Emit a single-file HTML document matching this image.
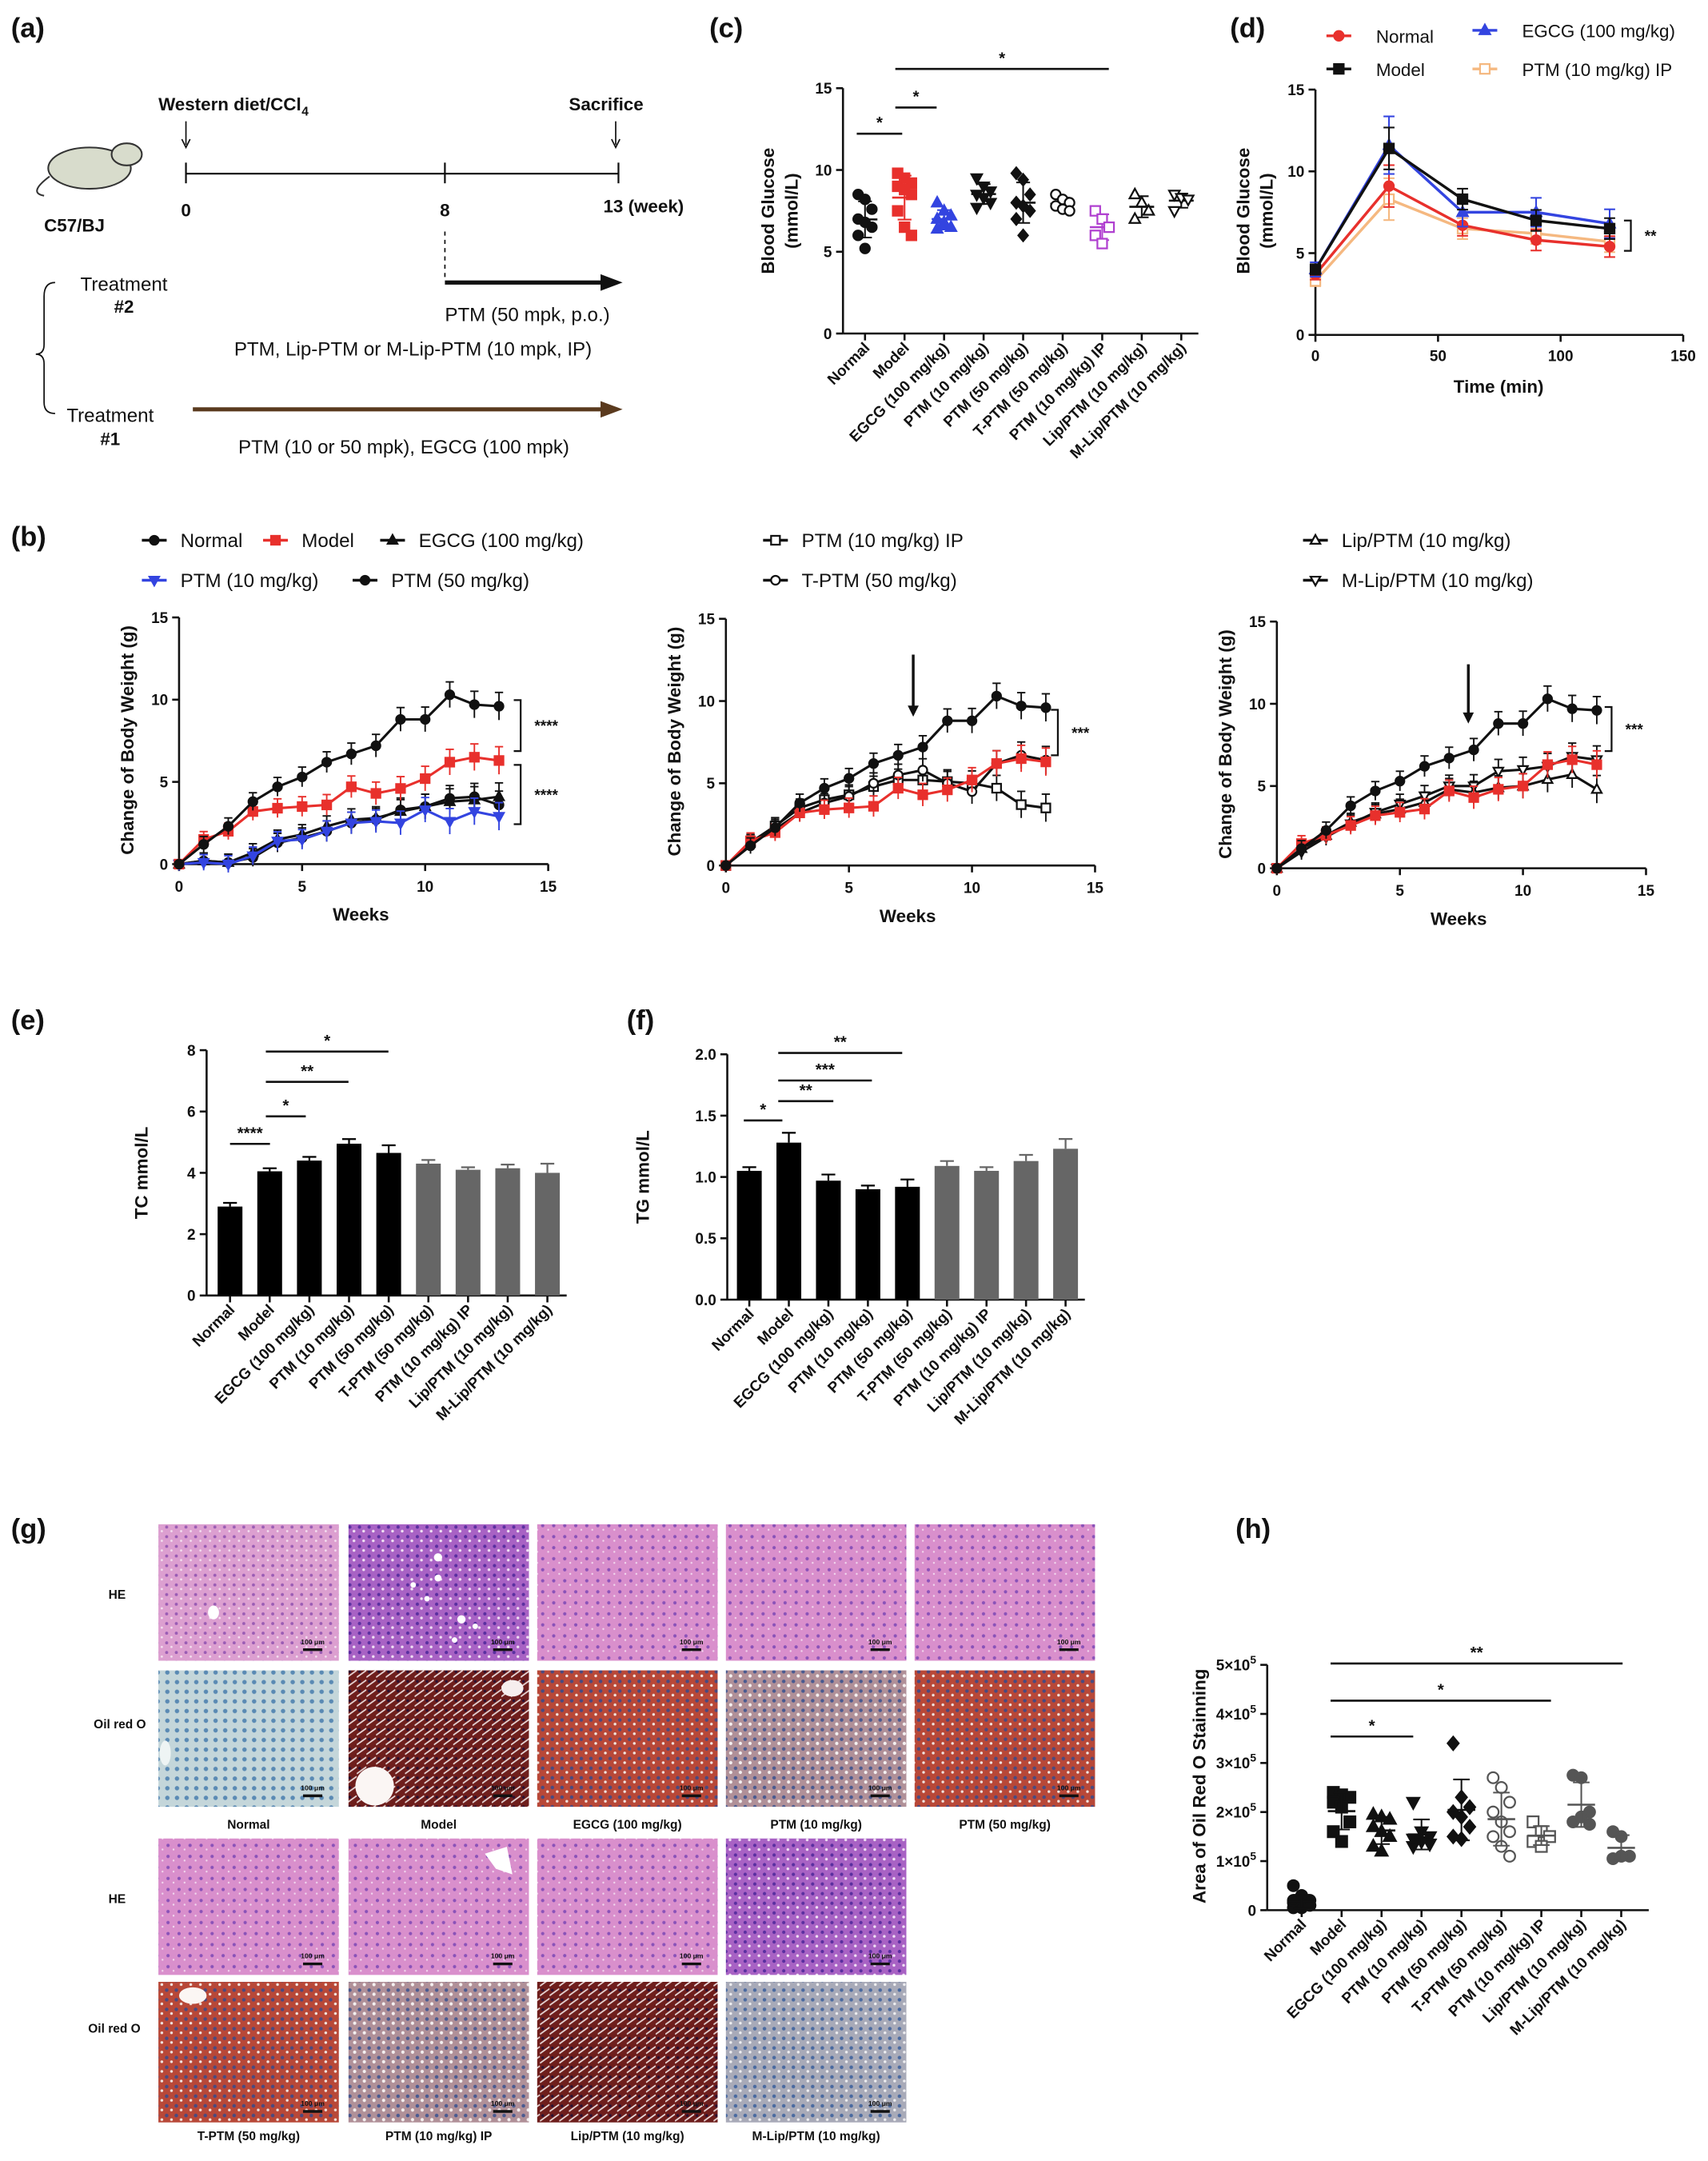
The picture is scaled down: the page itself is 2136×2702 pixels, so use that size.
<!DOCTYPE html>
<html><head><meta charset="utf-8"><style>
html,body{margin:0;padding:0;background:#fff;}
svg{display:block;font-family:"Liberation Sans",Arial,sans-serif;}
</style></head><body>
<svg id="fig" xmlns="http://www.w3.org/2000/svg" width="2136" height="2702" viewBox="0 0 1240 1568" preserveAspectRatio="none">
<defs>
<pattern id="pHEn" width="7" height="7" patternUnits="userSpaceOnUse"><rect width="7" height="7" fill="#dc9fd0"/><circle cx="2" cy="2" r="1.1" fill="#9a5cb4"/><circle cx="5.5" cy="5" r="0.8" fill="#f4e0f0"/></pattern>
<pattern id="pHEm" width="7" height="7" patternUnits="userSpaceOnUse"><rect width="7" height="7" fill="#a862c4"/><circle cx="2" cy="2" r="1.2" fill="#5a2fa0"/><circle cx="5" cy="5" r="1" fill="#f0e0f4"/></pattern>
<pattern id="pHE2" width="8" height="8" patternUnits="userSpaceOnUse"><rect width="8" height="8" fill="#d98fcc"/><circle cx="2" cy="3" r="1.2" fill="#8a52b8"/><circle cx="6" cy="6" r="0.7" fill="#f2d8ee"/></pattern>
<pattern id="pOn" width="7" height="7" patternUnits="userSpaceOnUse"><rect width="7" height="7" fill="#c4d6da"/><circle cx="2.5" cy="2.5" r="1.6" fill="#5a8ab4"/></pattern>
<pattern id="pOm" width="7" height="7" patternUnits="userSpaceOnUse"><rect width="7" height="7" fill="#6e1e1c"/><path d="M0 6 L7 1" stroke="#e8d8d8" stroke-width="1"/><circle cx="2" cy="2" r="1" fill="#2a1030"/></pattern>
<pattern id="pOr" width="7" height="7" patternUnits="userSpaceOnUse"><rect width="7" height="7" fill="#b84838"/><circle cx="2" cy="2" r="1.3" fill="#4a4a80"/><circle cx="5.5" cy="5" r="1" fill="#f0e4e0"/></pattern>
<pattern id="pOg" width="7" height="7" patternUnits="userSpaceOnUse"><rect width="7" height="7" fill="#b09098"/><circle cx="2" cy="2" r="1.3" fill="#4a5a90"/><circle cx="5.5" cy="5" r="1.2" fill="#f4f0f0"/></pattern>
<pattern id="pOb" width="7" height="7" patternUnits="userSpaceOnUse"><rect width="7" height="7" fill="#a8aab8"/><circle cx="2" cy="2" r="1.3" fill="#4a6aa0"/><circle cx="5.5" cy="5" r="1" fill="#eeeef0"/></pattern>
</defs>
</svg>
<script>
// ---------- data ----------
const cats = ["Normal","Model","EGCG (100 mg/kg)","PTM (10 mg/kg)","PTM (50 mg/kg)","T-PTM (50 mg/kg)","PTM (10 mg/kg)  IP","Lip/PTM (10 mg/kg)","M-Lip/PTM (10 mg/kg)"];
const glucPts = [[8.5,8.2,7.6,7.0,6.8,6.5,6.0,5.2],[9.8,9.5,9.2,9.0,8.8,8.5,7.5,6.5,6.0],[8.0,7.5,7.2,7.0,6.8,6.5,6.4,6.6],[9.5,9.0,8.7,8.5,8.3,8.0,7.7],[9.8,9.4,8.5,8.0,7.8,7.5,7.0,6.0],[8.5,8.2,8.0,7.8,7.6,7.5],[7.5,7.0,6.5,6.0,5.5],[8.5,8.0,7.5,7.0],[8.5,8.3,8.2,7.5]];
const ogttTimes = [0,30,60,90,120];
const ogttNormal = [3.7,9.1,6.7,5.8,5.4];
const ogttModel = [4.0,11.4,8.3,7.0,6.5];
const ogttEGCG = [4.0,11.6,7.5,7.5,6.8];
const ogttIP = [3.3,8.3,6.5,6.2,5.7];
const ogttErr = [0.4,1.6,0.8,0.8,0.8];
const weeks = [0,1,2,3,4,5,6,7,8,9,10,11,12,13];
const bwPTM50 = [0,1.2,2.3,3.8,4.7,5.3,6.2,6.7,7.2,8.8,8.8,10.3,9.7,9.6];
const bwModel = [0,1.5,2.0,3.2,3.4,3.5,3.6,4.7,4.3,4.6,5.2,6.2,6.5,6.3];
const bwEGCG = [0,0.2,0.1,0.7,1.5,1.8,2.3,2.7,2.8,3.2,3.5,3.8,3.9,4.1];
const bwPTM10 = [0,0.1,0,0.5,1.4,1.5,2.0,2.5,2.6,2.5,3.3,2.6,3.2,2.9];
const bwNormal = [0,0.2,0.1,0.4,1.3,1.6,2.0,2.5,2.7,3.3,3.5,4.0,4.1,3.6];
const bwIP = [0,1.4,2.4,3.5,4.0,4.3,4.8,5.2,5.2,5.1,5.0,4.7,3.7,3.5];
const bwTPTM = [0,1.4,2.2,3.2,3.8,4.2,5.0,5.5,5.8,5.0,4.5,6.2,6.7,6.4];
const bwLip = [0,1.2,2.0,2.8,3.3,3.6,4.0,4.8,4.6,4.9,5.0,5.4,5.7,4.8];
const bwMLip = [0,1.0,1.9,2.7,3.4,3.9,4.4,5.0,5.0,5.9,6.0,6.2,6.8,6.6];
const bwModel2 = [0,1.5,2.0,2.6,3.2,3.4,3.6,4.7,4.3,4.8,5.0,6.3,6.6,6.3];
const tcVals = [2.9,4.05,4.4,4.95,4.65,4.3,4.1,4.15,4.0];
const tcErr = [0.12,0.1,0.12,0.15,0.25,0.12,0.08,0.12,0.3];
const tgVals = [1.05,1.28,0.97,0.90,0.92,1.09,1.05,1.13,1.23];
const tgErr = [0.03,0.08,0.05,0.03,0.06,0.04,0.03,0.05,0.08];
const oilPts = [[0.5,0.3,0.2,0.15,0.1,0.1,0.05,0.05,0.1,0.2],[2.4,2.35,2.3,2.2,2.1,1.8,1.6,1.4],[1.95,1.9,1.85,1.7,1.6,1.5,1.3,1.2],[2.2,1.6,1.5,1.45,1.4,1.35,1.3],[3.4,2.3,2.1,2.0,1.9,1.7,1.5,1.45],[2.7,2.5,2.2,2.0,1.8,1.6,1.5,1.3,1.1],[1.8,1.6,1.5,1.4,1.3],[2.75,2.7,2.0,1.8,1.9,1.75],[1.6,1.5,1.1,1.05,1.1]];
const yTicksC = [0,5,10,15];
const yTicksTC = [0,2,4,6,8];
const yTicksTG = ["0.0","0.5","1.0","1.5","2.0"];
const xTicksW = [0,5,10,15];
const xTicksT = [0,50,100,150];

// ---------- helpers ----------
const NS="http://www.w3.org/2000/svg";
const svg=document.getElementById('fig');
function mk(tag,attrs,name,parent){
  const el=document.createElementNS(NS,tag);
  for(const k in attrs) el.setAttribute(k,attrs[k]);
  
  
  (parent||svg).appendChild(el);return el;
}
function txt(x,y,s,name,opt){
  opt=opt||{};
  const t=mk('text',{x:x,y:y,'font-size':opt.fs||12,'font-weight':opt.fw||'bold','text-anchor':opt.a||'start',fill:opt.fill||'#111'},name);
  if(opt.rot!==undefined) t.setAttribute('transform','rotate('+opt.rot+' '+x+' '+y+')');
  t.textContent=s;return t;
}
function line(x1,y1,x2,y2,name,opt){opt=opt||{};return mk('line',{x1:x1,y1:y1,x2:x2,y2:y2,stroke:opt.c||'#111','stroke-width':opt.w||1.5,'stroke-dasharray':opt.d||'none'},name);}
function marker(x,y,shape,color,open,name,r){
  r=r||3.5;const f=open?'#fff':color;const a={fill:f,stroke:color,'stroke-width':1.3};
  if(shape==='c'){a.cx=x;a.cy=y;a.r=r;return mk('circle',a,name);}
  if(shape==='s'){a.x=x-r;a.y=y-r;a.width=2*r;a.height=2*r;return mk('rect',a,name);}
  let p;
  if(shape==='u')p=[[x,y-r*1.2],[x+r*1.1,y+r*0.8],[x-r*1.1,y+r*0.8]];
  else if(shape==='d')p=[[x,y+r*1.2],[x+r*1.1,y-r*0.8],[x-r*1.1,y-r*0.8]];
  else p=[[x,y-r*1.2],[x+r,y],[x,y+r*1.2],[x-r,y]];
  a.points=p.map(q=>q.join(',')).join(' ');return mk('polygon',a,name);
}
function mean(a){return a.reduce((s,v)=>s+v,0)/a.length;}
function sd(a){const m=mean(a);return Math.sqrt(a.reduce((s,v)=>s+(v-m)*(v-m),0)/(a.length-1));}
function sig(x1,x2,y,s,name){line(x1,y,x2,y,name+'-line',{w:1.5});txt((x1+x2)/2,y-4,s,name+'-stars',{fs:12,a:'middle'});}
function bracket(x,y1,y2,s,name){mk('path',{d:'M'+(x-5)+' '+y1+' H'+x+' V'+y2+' H'+(x-5),fill:'none',stroke:'#111','stroke-width':1.3},name);txt(x+10,(y1+y2)/2+4,s,name+'-stars',{fs:11});}
function yaxis(x,yb,yt,vals,labels,vmax,name,fs){
  line(x,yb,x,yt,name);
  vals.forEach((v,i)=>{const y=yb-(yb-yt)*v/vmax;line(x-5,y,x,y,name+'-tick');txt(x-8,y+4,labels[i],name+'-label',{fs:fs||11,a:'end'});});
}
function catLabels(xs,y){cats.forEach((c,i)=>txt(xs[i]+4,y,c,'x-label-'+i,{fs:11,a:'end',rot:-45}));}

// ---------- panel labels ----------
[['(a)',8,27],['(c)',515,27],['(d)',893,27],['(b)',8,396],['(e)',8,747],['(f)',455,747],['(g)',8,1116],['(h)',897,1116]].forEach(p=>txt(p[1],p[2],p[0],'panel-label',{fs:20}));

// ---------- (a) timeline ----------
mk('ellipse',{cx:65,cy:122,rx:30,ry:15,fill:'#d8dccc',stroke:'#333','stroke-width':1.2},'mouse-body');
mk('ellipse',{cx:92,cy:112,rx:11,ry:8,fill:'#d8dccc',stroke:'#333','stroke-width':1.2},'mouse-head');
mk('path',{d:'M36 128 Q20 140 32 142',fill:'none',stroke:'#333','stroke-width':1.2},'mouse-tail');
txt(32,168,'C57/BJ','strain-label',{fs:13});
txt(115,80,'Western diet/CCl','diet-label',{fs:13});
txt(219,84,'4','diet-sub',{fs:9});
txt(413,80,'Sacrifice','sacrifice-label',{fs:13});
line(135,88,135,105,'diet-arrow',{w:1});mk('path',{d:'M132 101 L135 107 L138 101',fill:'none',stroke:'#111'},'diet-arrowhead');
line(447,88,447,105,'sac-arrow',{w:1});mk('path',{d:'M444 101 L447 107 L450 101',fill:'none',stroke:'#111'},'sac-arrowhead');
line(135,126,449,126,'timeline',{w:1.3});
[135,323,449].forEach(x=>line(x,118,x,133,'timeline-tick',{w:1.3}));
txt(135,157,'0','week-0',{fs:13,a:'middle'});txt(323,157,'8','week-8',{fs:13,a:'middle'});txt(438,154,'13 (week)','week-13',{fs:13});
line(323,168,323,204,'dash-line',{w:1,d:'3,3'});
line(323,205,440,205,'treat2-arrow',{w:3});mk('polygon',{points:'436,199 452,205 436,211',fill:'#111'},'treat2-arrowhead');
txt(323,233,'PTM (50 mpk, p.o.)','treat2-po',{fs:14,fw:'normal'});
txt(170,258,'PTM, Lip-PTM or M-Lip-PTM  (10 mpk, IP)','treat2-ip',{fs:14,fw:'normal'});
txt(90,211,'Treatment','treat2-label',{fs:14,fw:'normal',a:'middle'});txt(90,227,'#2','treat2-num',{fs:13,a:'middle'});
mk('path',{d:'M40 205 Q32 205 32 215 V250 Q32 257 26 257 Q32 257 32 264 V292 Q32 300 40 300',fill:'none',stroke:'#111','stroke-width':1},'brace');
txt(80,306,'Treatment','treat1-label',{fs:14,fw:'normal',a:'middle'});txt(80,323,'#1','treat1-num',{fs:13,a:'middle'});
line(140,297,440,297,'treat1-arrow',{w:3,c:'#5a3a1e'});mk('polygon',{points:'436,291 452,297 436,303',fill:'#5a3a1e'},'treat1-arrowhead');
txt(173,329,'PTM (10 or 50 mpk),    EGCG (100 mpk)','treat1-text',{fs:14,fw:'normal'});

// ---------- (c) blood glucose scatter ----------
(function(){
  const x0=612,x1=870,yb=242,yt=64,vmax=15;
  const sy=v=>yb-(yb-yt)*v/vmax;
  const xs=cats.map((c,i)=>628+i*28.7);
  yaxis(x0,yb,yt,yTicksC,yTicksC.map(String),vmax,'c-y-axis');
  line(x0,yb,x1,yb,'c-x-axis');
  xs.forEach(x=>line(x,yb,x,yb+5,'c-x-tick'));
  catLabels(xs,253);
  txt(562,153,'Blood Glucose','c-y-title',{fs:13,a:'middle',rot:-90});
  txt(579,153,'(mmol/L)','c-y-title-unit',{fs:13,a:'middle',rot:-90});
  const shp=['c','s','u','d','q','c','s','u','d'],open=[0,0,0,0,0,1,1,1,1],col=['#111','#e8302c','#3344e0','#111','#111','#111','#b040d0','#111','#111'];
  glucPts.forEach((g,i)=>{
    const m=mean(g),s=sd(g),cx=xs[i];
    line(cx-9,sy(m),cx+9,sy(m),'c-mean-'+i,{c:col[i]});
    line(cx,sy(m-s),cx,sy(m+s),'c-sd-'+i,{c:col[i],w:1.2});
    line(cx-5,sy(m-s),cx+5,sy(m-s),'c-sd-cap',{c:col[i],w:1.2});line(cx-5,sy(m+s),cx+5,sy(m+s),'c-sd-cap',{c:col[i],w:1.2});
    g.forEach((v,j)=>marker(cx+((j%3)-1)*5,sy(v),shp[i],col[i],open[i],'c-point-'+i));
  });
  sig(622,655,97,'*','c-sig-1');sig(650,680,78,'*','c-sig-2');sig(650,805,50,'*','c-sig-3');
})();

// ---------- (d) OGTT ----------
(function(){
  const x0=955,x1=1222,yb=243,yt=65;
  const sx=v=>x0+(x1-x0)*v/150,sy=v=>yb-(yb-yt)*v/15;
  yaxis(x0,yb,yt,yTicksC,yTicksC.map(String),15,'d-y-axis');
  line(x0,yb,x1,yb,'d-x-axis');
  xTicksT.forEach(t=>{line(sx(t),yb,sx(t),yb+5,'d-x-tick');txt(sx(t),yb+19,String(t),'d-x-label',{fs:11,a:'middle'});});
  txt(1088,285,'Time (min)','d-x-title',{fs:13,a:'middle'});
  txt(907,153,'Blood Glucose','d-y-title',{fs:13,a:'middle',rot:-90});
  txt(924,153,'(mmol/L)','d-y-title-unit',{fs:13,a:'middle',rot:-90});
  const series=[[ogttIP,'#f5b880','s',1,'ptm-ip'],[ogttNormal,'#e8302c','c',0,'normal'],[ogttEGCG,'#3344e0','u',0,'egcg'],[ogttModel,'#111','s',0,'model']];
  series.forEach(s=>{
    mk('polyline',{points:ogttTimes.map((t,i)=>sx(t)+','+sy(s[0][i])).join(' '),fill:'none',stroke:s[1],'stroke-width':2},'d-line-'+s[4]);
    ogttTimes.forEach((t,i)=>{const e=ogttErr[i]*(s[4]==='egcg'?1.1:0.8);line(sx(t),sy(s[0][i]-e),sx(t),sy(s[0][i]+e),'d-err',{c:s[1],w:1.2});line(sx(t)-4,sy(s[0][i]+e),sx(t)+4,sy(s[0][i]+e),'d-err-cap',{c:s[1],w:1.2});line(sx(t)-4,sy(s[0][i]-e),sx(t)+4,sy(s[0][i]-e),'d-err-cap',{c:s[1],w:1.2});marker(sx(t),sy(s[0][i]),s[2],s[1],s[3],'d-point-'+s[4]);});
  });
  bracket(1184,160,182,'**','d-sig');
  [[972,26,'#e8302c','c',0,'Normal'],[972,50,'#111','s',0,'Model'],[1078,22,'#3344e0','u',0,'EGCG (100 mg/kg)'],[1078,50,'#f5b880','s',1,'PTM (10 mg/kg) IP']].forEach(l=>{
    line(l[0]-9,l[1],l[0]+9,l[1],'d-legend-line',{c:l[2],w:2});marker(l[0],l[1],l[3],l[2],l[4],'d-legend-marker');
    txt(l[0]+27,l[1]+5,l[5],'d-legend-'+l[5],{fs:13,fw:'normal'});
  });
})();

// ---------- (b) body weight ----------
function bwPlot(x0,yb,series,idx){
  const x1=x0+268,yt=yb-179;
  const sx=v=>x0+(x1-x0)*v/15,sy=v=>yb-(yb-yt)*v/15;
  yaxis(x0,yb,yt,yTicksC,yTicksC.map(String),15,'b'+idx+'-y-axis');
  line(x0,yb,x1,yb,'b'+idx+'-x-axis');
  xTicksW.forEach(t=>{line(sx(t),yb,sx(t),yb+5,'b'+idx+'-x-tick');txt(sx(t),yb+20,String(t),'b'+idx+'-x-label',{fs:11,a:'middle'});});
  txt((x0+x1)/2-2,yb+41,'Weeks','b'+idx+'-x-title',{fs:13,a:'middle'});
  txt(x0-33,yb-90,'Change of Body Weight (g)','b'+idx+'-y-title',{fs:13,a:'middle',rot:-90});
  series.forEach(s=>{
    mk('polyline',{points:weeks.map((w,i)=>sx(w)+','+sy(s.d[i])).join(' '),fill:'none',stroke:s.c,'stroke-width':1.8},'b'+idx+'-line-'+s.n);
    weeks.forEach((w,i)=>{if(i>0){const e=0.45+0.03*i;line(sx(w),sy(s.d[i]-e),sx(w),sy(s.d[i]+e),'b-err',{c:s.c,w:1.1});line(sx(w)-3,sy(s.d[i]+e),sx(w)+3,sy(s.d[i]+e),'b-err-cap',{c:s.c,w:1.1});}
      marker(sx(w),sy(s.d[i]),s.m,s.c,s.o,'b'+idx+'-point-'+s.n,3.2);});
  });
  return {sx:sx,sy:sy};
}
const P50={d:bwPTM50,c:'#111',m:'c',o:0,n:'ptm50'};
bwPlot(130,627,[{d:bwNormal,c:'#111',m:'c',o:0,n:'normal'},{d:bwEGCG,c:'#111',m:'u',o:0,n:'egcg'},{d:bwPTM10,c:'#3344e0',m:'d',o:0,n:'ptm10'},{d:bwModel,c:'#e8302c',m:'s',o:0,n:'model'},P50],1);
bracket(378,508,545,'****','b1-sig-1');bracket(378,555,598,'****','b1-sig-2');
bwPlot(527,628,[{d:bwIP,c:'#111',m:'s',o:1,n:'ptm-ip'},{d:bwTPTM,c:'#111',m:'c',o:1,n:'tptm'},{d:bwModel,c:'#e8302c',m:'s',o:0,n:'model'},P50],2);
bracket(768,515,548,'***','b2-sig');
bwPlot(927,630,[{d:bwLip,c:'#111',m:'u',o:1,n:'lip'},{d:bwMLip,c:'#111',m:'d',o:1,n:'mlip'},{d:bwModel2,c:'#e8302c',m:'s',o:0,n:'model'},P50],3);
bracket(1170,513,545,'***','b3-sig');
[[663,475,520],[1066,482,525]].forEach(a=>{line(a[0],a[1],a[0],a[2]-6,'b-treat-arrow',{w:2});mk('polygon',{points:(a[0]-4)+','+(a[2]-8)+' '+(a[0]+4)+','+(a[2]-8)+' '+a[0]+','+a[2],fill:'#111'},'b-treat-arrowhead');});
[[112,392,'#111','c',0,'Normal'],[200,392,'#e8302c','s',0,'Model'],[285,392,'#111','u',0,'EGCG (100 mg/kg)'],[112,421,'#3344e0','d',0,'PTM (10 mg/kg)'],[265,421,'#111','c',0,'PTM (50 mg/kg)'],
 [563,392,'#111','s',1,'PTM (10 mg/kg) IP'],[563,421,'#111','c',1,'T-PTM (50 mg/kg)'],[955,392,'#111','u',1,'Lip/PTM (10 mg/kg)'],[955,421,'#111','d',1,'M-Lip/PTM (10 mg/kg)']].forEach(l=>{
  line(l[0]-9,l[1],l[0]+9,l[1],'b-legend-line',{c:l[2],w:2});marker(l[0],l[1],l[3],l[2],l[4],'b-legend-marker',3.2);
  txt(l[0]+19,l[1]+5,l[5],'b-legend-'+l[5],{fs:14,fw:'normal'});
});

// ---------- (e) TC, (f) TG ----------
function barPlot(x0,yb,yt,vmax,vals,err,tickVals,tickLabels,title,tx,name,step,first){
  const sy=v=>yb-(yb-yt)*v/vmax;
  const xs=vals.map((v,i)=>first+i*step);
  yaxis(x0,yb,yt,tickVals,tickLabels,vmax,name+'-y-axis');
  line(x0,yb,xs[8]+14,yb,name+'-x-axis');
  xs.forEach(x=>line(x,yb,x,yb+5,name+'-x-tick'));
  vals.forEach((v,i)=>{
    const c=i<5?'#000':'#666';
    line(xs[i],sy(v),xs[i],sy(v+err[i]),name+'-err',{c:c,w:1.3});line(xs[i]-5,sy(v+err[i]),xs[i]+5,sy(v+err[i]),name+'-err-cap',{c:c,w:1.3});
    mk('rect',{x:xs[i]-9,y:sy(v),width:18,height:yb-sy(v),fill:c},name+'-bar-'+i);
  });
  catLabels(xs,yb+11);
  txt(tx,(yb+yt)/2,title,name+'-y-title',{fs:13,a:'middle',rot:-90});
}
barPlot(150,940,762,8,tcVals,tcErr,yTicksTC,yTicksTC.map(String),'TC mmol/L',107,'e',28.8,167);
sig(167,196,830,'****','e-sig-1');sig(193,222,810,'*','e-sig-2');sig(193,253,785,'**','e-sig-3');sig(193,282,763,'*','e-sig-4');
barPlot(528,943,765,2,tgVals,tgErr,[0,0.5,1,1.5,2],yTicksTG,'TG mmol/L',471,'f',28.7,544);
sig(540,568,813,'*','f-sig-1');sig(565,605,799,'**','f-sig-2');sig(565,633,784,'***','f-sig-3');sig(565,655,764,'**','f-sig-4');

// ---------- (g) histology ----------
(function(){
  const cols1=[115,253,390,527,664],w=131;
  const he1=['pHEn','pHEm','pHE2','pHE2','pHE2'],oil1=['pOn','pOm','pOr','pOg','pOr'];
  const he2=['pHE2','pHE2','pHE2','pHEm'],oil2=['pOr','pOg','pOm','pOb'];
  const cap1=['Normal','Model','EGCG (100 mg/kg)','PTM (10 mg/kg)','PTM (50 mg/kg)'];
  const cap2=['T-PTM (50 mg/kg)','PTM (10 mg/kg) IP','Lip/PTM (10 mg/kg)','M-Lip/PTM (10 mg/kg)'];
  function tile(x,y,h,p,nm){mk('rect',{x:x,y:y,width:w,height:h,fill:'url(#'+p+')'},nm);}
  function scale(x,y,h){line(x+w-26,y+h-8,x+w-12,y+h-8,'scale-bar',{w:2});txt(x+w-19,y+h-12,'100 μm','scale-label',{fs:5,a:'middle'});}
  cols1.forEach((x,i)=>{tile(x,1106,99,he1[i],'he-image-'+i);tile(x,1212,99,oil1[i],'oil-image-'+i);txt(x+w/2,1327,cap1[i],'histo-caption',{fs:9,a:'middle'});});
  cols1.slice(0,4).forEach((x,i)=>{tile(x,1334,99,he2[i],'he-image-r2-'+i);tile(x,1438,102,oil2[i],'oil-image-r2-'+i);txt(x+w/2,1553,cap2[i],'histo-caption',{fs:9,a:'middle'});});
  // features
  mk('ellipse',{cx:272,cy:1296,rx:14,ry:14,fill:'#fbf6f4'},'model-oil-vessel');
  mk('ellipse',{cx:372,cy:1225,rx:8,ry:6,fill:'#f6eeee'},'model-oil-space');
  mk('ellipse',{cx:120,cy:1272,rx:4,ry:9,fill:'#eef4f4'},'normal-oil-vessel');
  mk('ellipse',{cx:155,cy:1170,rx:4,ry:5,fill:'#fff'},'normal-he-vein');
  [[318,1130,3],[318,1145,2.5],[310,1160,2],[335,1175,3],[345,1180,2],[330,1190,2],[300,1150,2]].forEach(v=>mk('circle',{cx:v[0],cy:v[1],r:v[2],fill:'#fff'},'model-he-vacuole'));
  mk('path',{d:'M352 1345 L368 1340 L372 1360 L360 1356 Z',fill:'#fff'},'model-he2-vessel');
  mk('ellipse',{cx:140,cy:1448,rx:10,ry:6,fill:'#fbf6f4'},'tptm-oil-vessel');
  cols1.forEach(x=>{scale(x,1106,99);scale(x,1212,99);});
  cols1.slice(0,4).forEach(x=>{scale(x,1334,99);scale(x,1438,102);});
  txt(85,1160,'HE','row-label-he',{fs:9,a:'middle'});txt(87,1254,'Oil red O','row-label-oil',{fs:9,a:'middle'});
  txt(85,1381,'HE','row-label-he2',{fs:9,a:'middle'});txt(83,1475,'Oil red O','row-label-oil2',{fs:9,a:'middle'});
})();

// ---------- (h) oil red area ----------
(function(){
  const x0=920,x1=1197,yb=1386,yt=1208,vmax=5;
  const sy=v=>yb-(yb-yt)*v/vmax;
  const xs=cats.map((c,i)=>945+i*29);
  line(x0,yb,x0,yt,'h-y-axis');
  [0,1,2,3,4,5].forEach(v=>{line(x0-5,sy(v),x0,sy(v),'h-y-tick');
    const t=txt(x0-8,sy(v)+4,v===0?'0':v+'×10','h-y-label',{fs:11,a:'end'});
    if(v>0){const s=document.createElementNS(NS,'tspan');s.setAttribute('dy','-5');s.setAttribute('font-size','8');s.textContent='5';t.appendChild(s);}
  });
  line(x0,yb,x1,yb,'h-x-axis');
  xs.forEach(x=>line(x,yb,x,yb+5,'h-x-tick'));
  catLabels(xs,1397);
  txt(875,1296,'Area of Oil Red O Stainning','h-y-title',{fs:13,a:'middle',rot:-90});
  const shp=['c','s','u','d','q','c','s','c','c'],open=[0,0,0,0,0,1,1,0,0];
  oilPts.forEach((g,i)=>{
    const c=i<5?'#111':'#555',m=mean(g),s=sd(g),cx=xs[i];
    g.forEach((v,j)=>marker(cx+((j%3)-1)*6,sy(v),shp[i],c,open[i],'h-point-'+i,4));
    line(cx-10,sy(m),cx+10,sy(m),'h-mean-'+i,{c:c});
    line(cx,sy(m-s),cx,sy(m+s),'h-sd-'+i,{c:c,w:1.2});
    line(cx-6,sy(m+s),cx+6,sy(m+s),'h-sd-cap',{c:c,w:1.2});line(cx-6,sy(m-s),cx+6,sy(m-s),'h-sd-cap',{c:c,w:1.2});
  });
  sig(966,1178,1207,'**','h-sig-1');sig(966,1126,1234,'*','h-sig-2');sig(966,1026,1260,'*','h-sig-3');
})();
</script>
</body></html>
